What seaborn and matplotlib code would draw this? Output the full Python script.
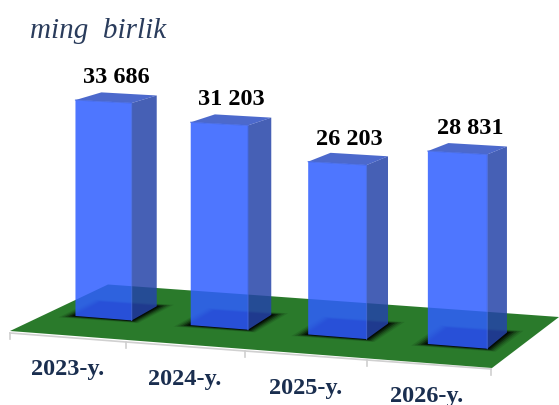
import matplotlib
matplotlib.use('Agg')
import matplotlib.pyplot as plt
import numpy as np
import seaborn as sns
from matplotlib.patches import Polygon
from matplotlib.transforms import Affine2D, Transform

years = ['2023-y.', '2024-y.', '2025-y.', '2026-y.']
values = [33686, 31203, 26203, 28831]

W, H = 559, 406
BAR_W = 0.49
SERIF = 'Liberation Serif'
BLUE = '#2f5eff'
ALPHA = 0.85


def project(x, h):
    """category position and value -> picture pixels, y pointing down"""
    x = np.asarray(x, dtype=float)
    h = np.asarray(h, dtype=float)
    px = 103.5 + 114.7 * x + 1.1 * x ** 2
    base = 317 + 0.0795 * (px - 76)
    scale = (6.41 + (px - 76) * 0.0008) / 1000
    return px, base - h * scale


def depth(x, h):
    """vector from a front corner to its back corner"""
    return 25.5 - 1.8 * x, -(14 + 0.67 * x) + h / 1000 * (0.19 + 0.03 * x)


class Perspective(Transform):
    input_dims = 2
    output_dims = 2
    is_separable = False
    has_inverse = False

    def transform_non_affine(self, xy):
        xy = np.asarray(xy, dtype=float)
        px, py = project(xy[:, 0], xy[:, 1])
        return np.column_stack([px, py])


def corner(x, y, back=False):
    px, py = project(x, y)
    if back:
        dx, dy = depth(x, y)
        return float(px + dx), float(py + dy)
    return float(px), float(py)


fig = plt.figure(figsize=(W / 100, H / 100), dpi=100)
ax = fig.add_axes([0, 0, 1, 1])
sns.barplot(x=years, y=values, color=BLUE, width=BAR_W, saturation=1, ax=ax, zorder=5)
ax.axis('off')
bars = list(ax.patches)

pix = Affine2D().scale(1 / W, -1 / H).translate(0, 1) + fig.transFigure
persp = Perspective() + pix

# floor
ax.add_patch(Polygon([(10, 332), (108, 285.5), (559, 318), (492, 369)], closed=True,
                     facecolor='#2a7a2b', edgecolor='none', transform=pix, zorder=1))
# axis line with ticks under the floor
tick_x = [10, 126, 245, 367, 491]
tick_y = [334, 343, 352, 361, 370]
ax.plot(tick_x, tick_y, color='#d0d0d0', lw=1.2, transform=pix, zorder=0.5)
for tx, ty in zip(tick_x, tick_y):
    ax.plot([tx, tx], [ty, ty + 6], color='#cfcfcf', lw=1.2, transform=pix, zorder=0.5)

for i, bar in enumerate(bars):
    bar.set_transform(persp)
    bar.set_alpha(ALPHA)
    bar.set_edgecolor('none')
    x0, x1 = bar.get_x(), bar.get_x() + bar.get_width()
    h = bar.get_height()

    # soft shadow around the foot of the bar
    foot = np.array([corner(x0, 0), corner(x1, 0), corner(x1, 0, True), corner(x0, 0, True)])
    mid = foot.mean(axis=0)
    for grow, a in [(1.42, 0.1), (1.34, 0.16), (1.26, 0.25), (1.18, 0.4), (1.1, 0.55), (1.04, 0.6)]:
        ax.add_patch(Polygon(mid + (foot - mid) * [grow, 1 + (grow - 1) * 0.7], closed=True,
                             facecolor='black', edgecolor='none', alpha=a,
                             transform=pix, zorder=2))

    side = [corner(x1, 0), corner(x1, h), corner(x1, h, True), corner(x1, 0, True)]
    ax.add_patch(Polygon(side, closed=True, facecolor='#2544a8', edgecolor='none',
                         alpha=ALPHA, transform=pix, zorder=4))
    top = [corner(x0, h), corner(x1, h), corner(x1, h, True), corner(x0, h, True)]
    ax.add_patch(Polygon(top, closed=True, facecolor='#2d4fc4', edgecolor='none',
                         alpha=ALPHA, transform=pix, zorder=4))

    # cover the pale seam between the faces
    seam = np.array([corner(x0, h), corner(x1, h), corner(x1, 0)])
    ax.plot(seam[:, 0], seam[:, 1], color='#4468e0', lw=0.8, alpha=0.8, transform=pix, zorder=5.5)

    lx, ly = corner(i, h)
    ax.text(lx + 12.5, ly - 25, f'{values[i]:,}'.replace(',', ' '), transform=pix,
            ha='center', va='center', family=SERIF, fontweight='bold', fontsize=17.5,
            color='black', zorder=6)

# category labels sit on their own slant below the floor
label_x = [68, 185, 306, 427]
label_y = [369.5, 379.5, 388.5, 396.5]
for name, lx, ly in zip(years, label_x, label_y):
    ax.text(lx, ly, name, transform=pix, ha='center', va='center', family=SERIF,
            fontweight='bold', fontsize=17.5, color='#1a2e4f', zorder=6)

ax.text(30, 31.5, 'ming  birlik', transform=pix, ha='left', va='center', family=SERIF,
        style='italic', fontsize=21, color='#2a3c5c', zorder=6)

fig.savefig('out.png', dpi=100)
